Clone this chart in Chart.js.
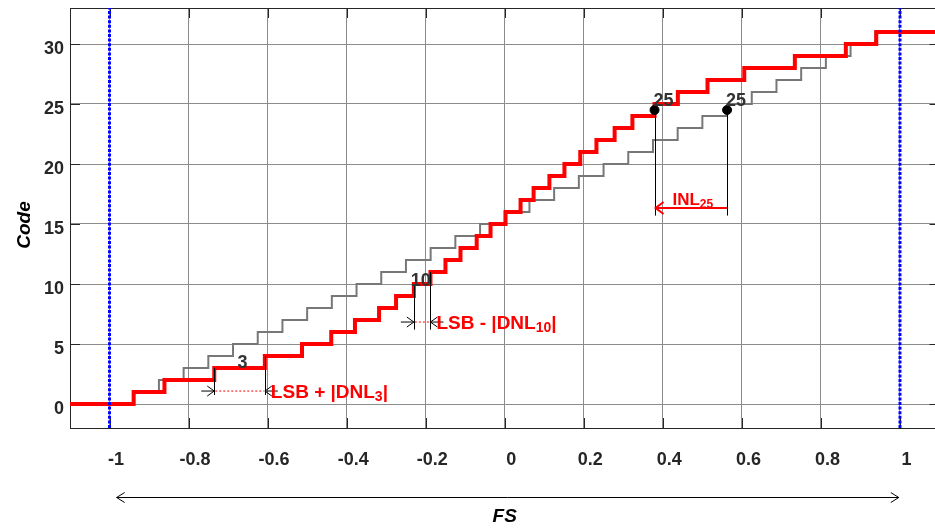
<!DOCTYPE html>
<html>
<head>
<meta charset="utf-8">
<style>html,body{margin:0;padding:0;overflow:hidden;background:#fff}</style>
<script src="https://cdn.jsdelivr.net/npm/chart.js@4"></script>
</head>
<body>
<canvas id="c" width="945" height="528" style="width:945px;height:528px;display:block"></canvas>
<script>
// ---------- data ----------
const xTicks = [-1, -0.8, -0.6, -0.4, -0.2, 0, 0.2, 0.4, 0.6, 0.8, 1];
const xTickLabels = ['-1', '-0.8', '-0.6', '-0.4', '-0.2', '0', '0.2', '0.4', '0.6', '0.8', '1'];
const yTicks = [0, 5, 10, 15, 20, 25, 30];
const yTickLabels = ['0', '5', '10', '15', '20', '25', '30'];
const xRange = [-1.1, 1.1];
const yRange = [-2, 33];
const fsLimits = [-1, 1];
const fsArrow = [-0.982, 0.997];
const codes = [1,2,3,4,5,6,7,8,9,10,11,12,13,14,15,16,17,18,19,20,21,22,23,24,25,26,27,28,29,30,31];
// measured (red) code transition levels, FS
const measuredTransitions = [-0.939, -0.861, -0.735, -0.607, -0.513, -0.439, -0.379, -0.318, -0.275, -0.230,
  -0.188, -0.150, -0.112, -0.071, -0.036, 0.002, 0.040, 0.073, 0.113, 0.151,
  0.191, 0.232, 0.278, 0.323, 0.379, 0.438, 0.513, 0.606, 0.734, 0.863, 0.940];
// ideal (gray) code transition levels, FS
const idealTransitions = [-0.9375, -0.875, -0.8125, -0.75, -0.6875, -0.625, -0.5625, -0.5, -0.4375, -0.375,
  -0.3125, -0.25, -0.1875, -0.125, -0.0625, 0, 0.0625, 0.125, 0.1875, 0.25,
  0.3125, 0.375, 0.4375, 0.5, 0.5625, 0.625, 0.6875, 0.75, 0.8125, 0.875, 0.9375];
// annotations
const dnlPlus = { code: 3, arrowLevel: 1.08, lineBottom: 0.75 };
const dnlMinus = { code: 10, arrowLevel: 6.83, lineBottom: 6.2 };
const inl = { code: 25, dotLevel: 24.5, lineBottom: 15.7, arrowLevel: 16.33 };

// ---------- helpers ----------
const FONT = "'Liberation Sans', Arial, Helvetica, sans-serif";
const stairs = (trans) => [{ x: xRange[0], y: 0 }]
  .concat(trans.map((t, i) => ({ x: t, y: codes[i] })))
  .concat([{ x: xRange[1], y: codes[codes.length - 1] }]);
const tr = (arr, code) => arr[codes.indexOf(code)];

function richText(ctx, parts, x, y, color, align) {
  let w = 0;
  parts.forEach(p => { ctx.font = `bold ${p[1]}px ${FONT}`; w += ctx.measureText(p[0]).width; });
  let cx = align === 'center' ? x - w / 2 : x;
  ctx.fillStyle = color; ctx.textAlign = 'left'; ctx.textBaseline = 'alphabetic';
  parts.forEach(p => {
    ctx.font = `bold ${p[1]}px ${FONT}`;
    ctx.fillText(p[0], cx, y + (p[2] || 0));
    cx += ctx.measureText(p[0]).width;
  });
}
function head(ctx, tx, ty, dir, len, half) {
  ctx.beginPath();
  ctx.moveTo(tx - dir * len, ty - half);
  ctx.lineTo(tx, ty);
  ctx.lineTo(tx - dir * len, ty + half);
  ctx.stroke();
}
function seg(ctx, x1, y1, x2, y2) {
  ctx.beginPath(); ctx.moveTo(x1, y1); ctx.lineTo(x2, y2); ctx.stroke();
}

// frame + inward ticks
const framePlugin = {
  id: 'frame',
  beforeDatasetsDraw(chart) {
    const { ctx, chartArea: a, scales: { x, y } } = chart;
    ctx.save();
    ctx.strokeStyle = '#262626'; ctx.lineWidth = 1;
    xTicks.forEach(v => {
      const px = Math.round(x.getPixelForValue(v)) + 0.5;
      seg(ctx, px, a.top, px, a.top + 10);
      seg(ctx, px, a.bottom, px, a.bottom - 10);
    });
    yTicks.forEach(v => {
      const py = Math.round(y.getPixelForValue(v)) + 0.5;
      seg(ctx, a.left, py, a.left + 10, py);
      seg(ctx, a.right, py, a.right - 10, py);
    });
    ctx.strokeRect(Math.round(a.left) + 0.5, Math.round(a.top) + 0.5, Math.round(a.right - a.left), Math.round(a.bottom - a.top));
    ctx.restore();
  }
};

const annotPlugin = {
  id: 'annot',
  afterDatasetsDraw(chart) {
    const { ctx, chartArea: a, scales: { x, y } } = chart;
    const X = v => x.getPixelForValue(v), Y = v => y.getPixelForValue(v);
    ctx.save();
    ctx.lineCap = 'butt';

    // ----- DNL annotations -----
    [[dnlPlus, 'LSB + |DNL', '3'], [dnlMinus, 'LSB - |DNL', '10']].forEach(([d, main, sub]) => {
      const x1 = X(tr(measuredTransitions, d.code));
      const x2 = X(tr(measuredTransitions, d.code + 1));
      const ya = Y(d.arrowLevel);
      ctx.strokeStyle = '#000'; ctx.lineWidth = 1;
      seg(ctx, Math.round(x1) + 0.5, Y(d.code), Math.round(x1) + 0.5, Y(d.lineBottom));
      seg(ctx, Math.round(x2) + 0.5, Y(d.code + 1), Math.round(x2) + 0.5, Y(d.lineBottom));
      // left arrow pointing right
      seg(ctx, x1 - 13, ya, x1, ya); head(ctx, x1, ya, 1, 7, 5);
      // right arrow pointing left
      seg(ctx, x2 + 13, ya, x2, ya); head(ctx, x2, ya, -1, 7, 5);
      // dotted red
      ctx.strokeStyle = '#ff0000'; ctx.setLineDash([2, 2]);
      seg(ctx, x1 + 1, ya, x2 - 1, ya);
      ctx.setLineDash([]);
      richText(ctx, [[main, 19], [sub, 14, 3], ['|', 19]], x2 + 6, ya + 7, '#ff0000', 'left');
      // code label
      ctx.font = `bold 18px ${FONT}`; ctx.fillStyle = '#333'; ctx.textAlign = 'center'; ctx.textBaseline = 'alphabetic';
      ctx.fillText(String(d.code), (x1 + x2) / 2 + (d.code === 3 ? 3 : -1.5), Y(d.code) + (d.code === 3 ? 0 : 2));
    });

    // ----- INL annotation -----
    const xr = X(tr(measuredTransitions, inl.code));
    const xg = X(tr(idealTransitions, inl.code));
    ctx.strokeStyle = '#000'; ctx.lineWidth = 1;
    seg(ctx, Math.round(xr) + 0.5, Y(inl.dotLevel), Math.round(xr) + 0.5, Y(inl.lineBottom));
    seg(ctx, Math.round(xg) + 0.5, Y(inl.dotLevel), Math.round(xg) + 0.5, Y(inl.lineBottom));
    const yi = Y(inl.arrowLevel);
    ctx.strokeStyle = '#ff0000'; ctx.lineWidth = 2;
    seg(ctx, xg, yi, xr + 1, yi); head(ctx, xr + 1, yi, -1, 8, 6);
    richText(ctx, [['INL', 17], [String(inl.code), 12, 3]], (xr + xg) / 2 + 2, yi - 3, '#ff0000', 'center');
    ctx.font = `bold 18px ${FONT}`; ctx.fillStyle = '#333'; ctx.textAlign = 'left';
    ctx.fillText(String(inl.code), xr - 1, Y(inl.dotLevel) - 4.5);
    ctx.fillText(String(inl.code), xg - 1, Y(inl.dotLevel) - 4.5);
    ctx.restore();
  },
  afterDraw(chart) {
    const { ctx, chartArea: a, scales: { x } } = chart;
    ctx.save();
    // double arrow FS
    const ya = a.bottom + 69.5, xl = x.getPixelForValue(fsArrow[0]), xrr = x.getPixelForValue(fsArrow[1]);
    ctx.strokeStyle = '#000'; ctx.lineWidth = 1;
    seg(ctx, xl, ya, xrr, ya);
    head(ctx, xl, ya, -1, 8, 5);
    head(ctx, xrr, ya, 1, 8, 5);
    ctx.fillStyle = '#000'; ctx.font = `italic bold 19px ${FONT}`; ctx.textAlign = 'center'; ctx.textBaseline = 'middle';
    ctx.fillText('FS', (a.left + a.right) / 2, a.bottom + 89);
    ctx.translate(25, 225); ctx.rotate(-Math.PI / 2);
    ctx.fillText('Code', 0, 0);
    ctx.restore();
  }
};

new Chart(document.getElementById('c'), {
  type: 'scatter',
  data: {
    datasets: [
      { label: 'INL points', data: [{ x: tr(measuredTransitions, inl.code), y: inl.dotLevel }, { x: tr(idealTransitions, inl.code), y: inl.dotLevel }],
        showLine: false, pointRadius: 4.5, backgroundColor: '#000', borderColor: '#000', order: 0 },
      { label: '-FS', data: yRange.map(v => ({ x: fsLimits[0], y: v })), showLine: true, pointRadius: 0,
        borderColor: '#0000ff', borderWidth: 3, borderDash: [3, 1.6], order: 1 },
      { label: '+FS', data: yRange.map(v => ({ x: fsLimits[1], y: v })), showLine: true, pointRadius: 0,
        borderColor: '#0000ff', borderWidth: 3, borderDash: [3, 1.6], order: 1 },
      { label: 'measured', data: stairs(measuredTransitions), showLine: true, stepped: 'before', pointRadius: 0,
        borderColor: '#ff0000', borderWidth: 4, order: 2 },
      { label: 'ideal', data: stairs(idealTransitions), showLine: true, stepped: 'before', pointRadius: 0,
        borderColor: '#777777', borderWidth: 2, order: 3 }
    ]
  },
  options: {
    responsive: false, animation: false, events: [],
    layout: { padding: { top: 8, right: 4, left: 0, bottom: 0 } },
    plugins: { legend: { display: false }, tooltip: { enabled: false } },
    scales: {
      x: {
        type: 'linear', min: xRange[0], max: xRange[1],
        afterBuildTicks: s => { s.ticks = xTicks.map(v => ({ value: v })); },
        afterFit: s => { s.height = 100; s.paddingLeft = 0; s.paddingRight = 0; },
        grid: { color: '#8c8c8c', lineWidth: 1, drawTicks: false },
        border: { display: true, color: '#262626', width: 1 },
        ticks: { callback: (v, i) => xTickLabels[i], font: { family: FONT, size: 18, weight: 'bold' }, color: '#262626',
          padding: 21, labelOffset: 6.5, maxRotation: 0, autoSkip: false }
      },
      y: {
        type: 'linear', min: yRange[0], max: yRange[1],
        afterBuildTicks: s => { s.ticks = yTicks.map(v => ({ value: v })); },
        afterFit: s => { s.width = 70; s.paddingTop = 0; s.paddingBottom = 0; },
        grid: { color: '#8c8c8c', lineWidth: 1, drawTicks: false },
        border: { display: true, color: '#262626', width: 1 },
        ticks: { callback: (v, i) => yTickLabels[i], font: { family: FONT, size: 18, weight: 'bold' }, color: '#262626',
          padding: 6, labelOffset: 5, autoSkip: false }
      }
    }
  },
  plugins: [framePlugin, annotPlugin]
});
</script>
</body>
</html>
